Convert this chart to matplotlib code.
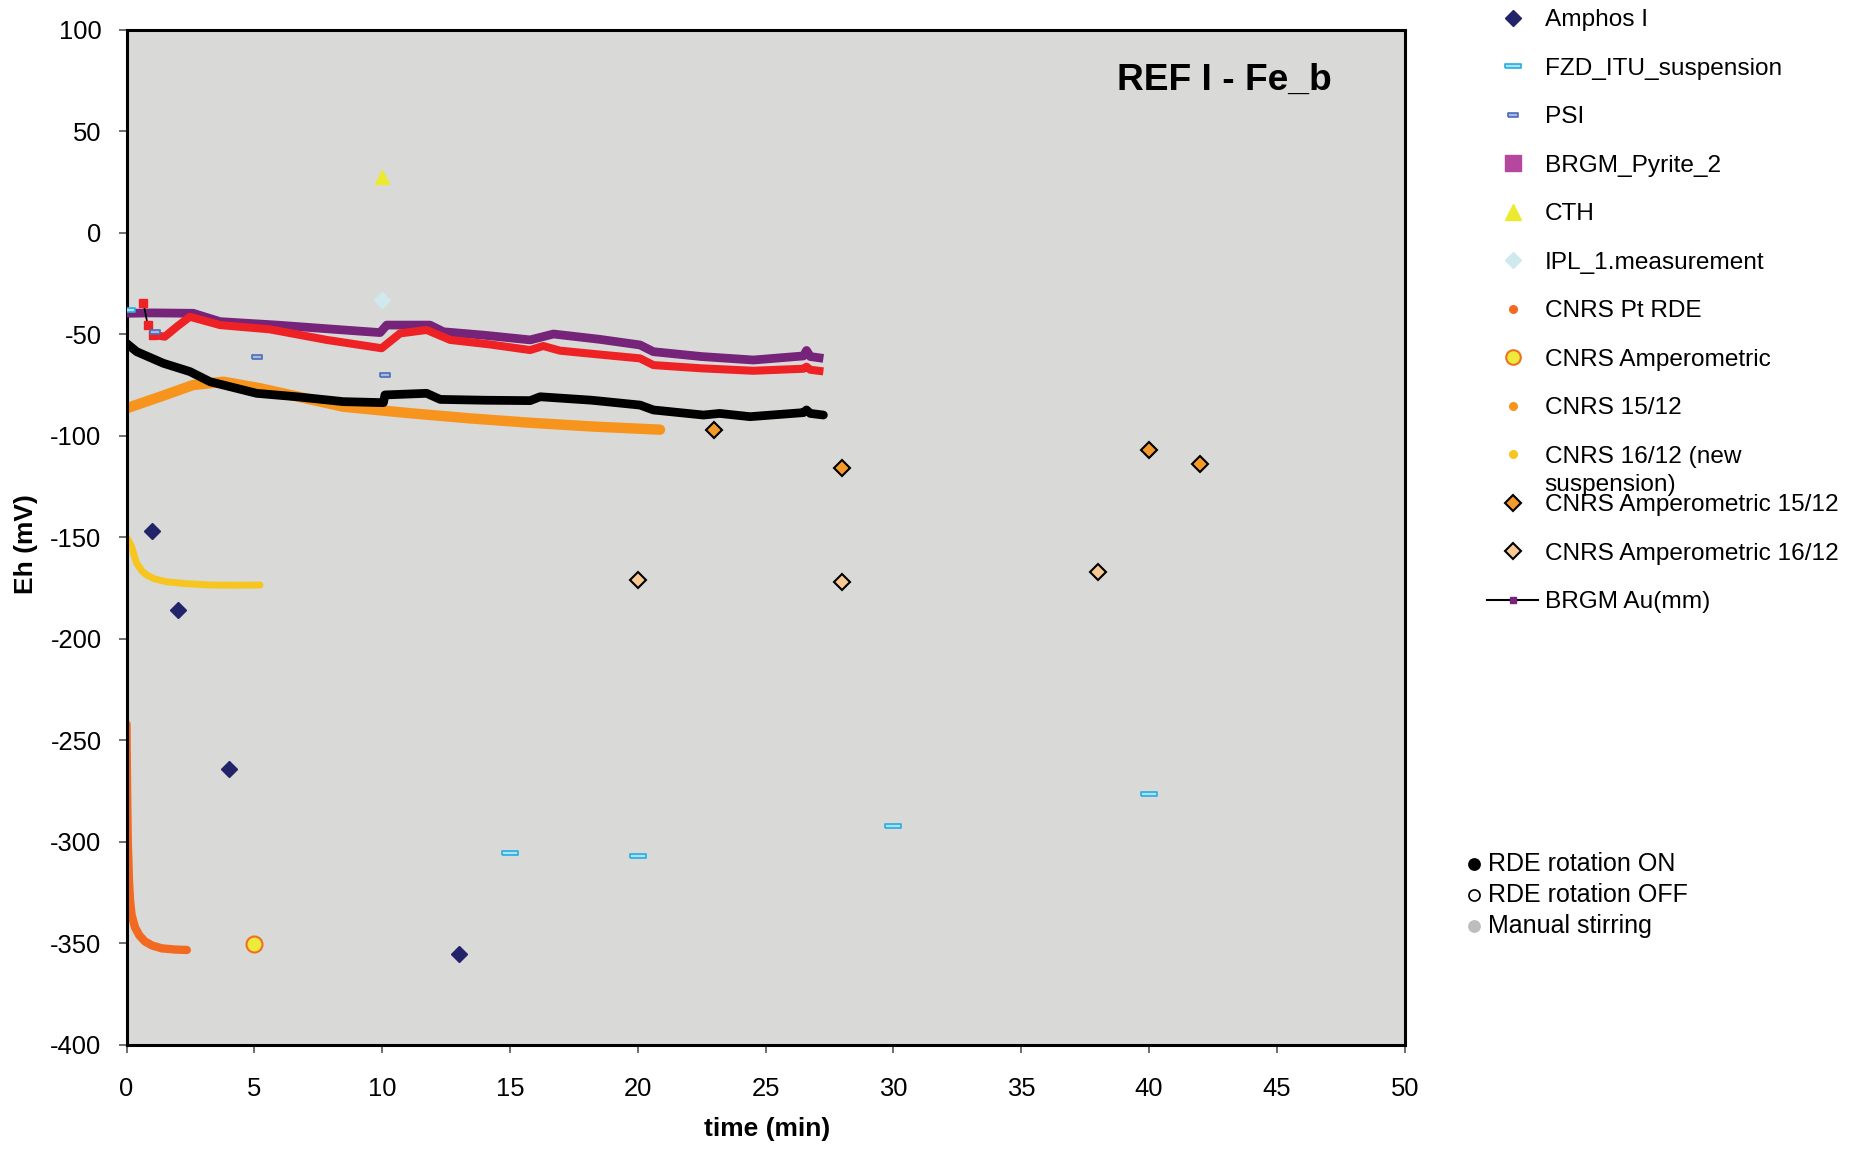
import matplotlib
matplotlib.use('Agg')
import matplotlib.pyplot as plt
from matplotlib.lines import Line2D

plt.rcParams['font.family'] = ['Liberation Sans', 'DejaVu Sans']
plt.rcParams['axes.unicode_minus'] = False

# ---------------- data ----------------
amphos_t = [1, 2, 4, 13]
amphos_v = [-147, -186, -264, -355]

fzd_t = [0, 15, 20, 30, 40]
fzd_v = [-38, -305.5, -307, -292, -276.5]

psi_t = [1.1, 5.1, 10.1]
psi_v = [-49, -61, -70]

cth_t = [10]
cth_v = [27.5]

ipl_t = [10]
ipl_v = [-33]

pt_rde_t = [0, 0.02, 0.05, 0.1, 0.14, 0.2, 0.33, 0.5, 0.72, 1.0, 1.38, 1.9, 2.36]
pt_rde_v = [-242, -271, -300, -320, -329, -336, -342, -346, -349, -351, -352.4, -353, -353.2]

amp_t = [5]
amp_v = [-350.5]

c1512_t = [0, 1.31, 2.61, 3.79, 5.22, 6.8, 8.48, 11.09, 13.5, 15.79, 18.3, 20.87]
c1512_v = [-86.5, -80.8, -75, -73.4, -76.6, -81, -85.7, -88.9, -91.5, -93.6, -95.5, -97.0]

c1612_t = [0, 0.07, 0.2, 0.3, 0.4, 0.6, 0.79, 1.1, 1.57, 2.3, 3.27, 4.2, 5.22]
c1612_v = [-150, -151.3, -154.6, -159, -162.8, -166.5, -168.6, -170.5, -171.9, -172.8, -173.5, -173.6, -173.5]

amp1512_t = [23, 28, 40, 42]
amp1512_v = [-97, -116, -107, -114]

amp1612_t = [20, 28, 38]
amp1612_v = [-171, -172, -167]

au_t = [0, 1.0, 2.61, 3.66, 5.88, 8.48, 9.92, 10.18, 11.87, 12.4, 14.0, 15.79, 16.7,
        18.5, 20.09, 20.61, 22.5, 24.52, 26.48, 26.6, 26.75, 27.26]
au_v = [-39.7, -39.5, -39.7, -43.8, -45.5, -47.9, -49.2, -45.5, -45.5, -48.8, -50.5, -52.8, -49.9,
        -52.5, -55.3, -58.6, -61, -62.7, -60.7, -58, -61, -61.9]

red_start_t = [0.66, 0.83, 1.05]
red_start_v = [-34.5, -45.5, -50.4]
red_t = [1.05, 1.5, 2.0, 2.48, 3.66, 5.61, 7.83, 9.98, 10.7, 11.74, 12.66, 14.2, 15.79, 16.3,
         16.96, 18.5, 20.09, 20.61, 22.5, 24.52, 26.48, 26.6, 26.75, 27.26]
red_v = [-50.4, -51.2, -46, -41.4, -45.5, -47.6, -52.8, -56.9, -49.6, -47.9, -52.8, -55, -57.8, -55.8,
         -58.1, -60, -61.9, -65.2, -66.8, -68, -67, -66, -67.5, -68.3]

blk_t = [0, 0.4, 1.44, 2.48, 3.27, 5.09, 6.66, 8.48, 10.05, 10.11, 11.74, 12.27, 14.0, 15.79, 16.18,
         18.2, 20.09, 20.61, 22.57, 23.2, 24.39, 26.48, 26.6, 26.75, 27.26]
blk_v = [-54.5, -58.6, -64.3, -68.4, -73.4, -79.1, -80.8, -83.2, -83.7, -79.9, -79.1, -82.1, -82.5, -82.7, -80.8,
         -82.5, -84.9, -87.3, -89.8, -89, -90.6, -88.6, -87.3, -89, -89.8]

legend_labels = ['Amphos I', 'FZD_ITU_suspension', 'PSI', 'BRGM_Pyrite_2', 'CTH',
                 'IPL_1.measurement', 'CNRS Pt RDE', 'CNRS Amperometric', 'CNRS 15/12',
                 'CNRS 16/12 (new', 'CNRS Amperometric 15/12', 'CNRS Amperometric 16/12',
                 'BRGM Au(mm)']
note_labels = ['RDE rotation ON', 'RDE rotation OFF', 'Manual stirring']

xticks = list(range(0, 51, 5))
yticks = list(range(-400, 101, 50))

# ---------------- styles ----------------
C_NAVY = '#232369'
C_PURPLE = '#76237a'
C_RED = '#ee2225'
C_ORANGE = '#f7941d'
C_GOLD = '#f7c520'
C_PTRDE = '#f26a21'
rect_long = [(-1, -0.3), (1, -0.3), (1, 0.3), (-1, 0.3), (-1, -0.3)]
rect_short = [(-1, -0.45), (1, -0.45), (1, 0.45), (-1, 0.45), (-1, -0.45)]

fig = plt.figure(figsize=(18.54, 11.52), dpi=100)
ax = fig.add_axes([126.5 / 1854, 1 - 1045 / 1152, (1404.7 - 126.5) / 1854, (1045 - 29.6) / 1152])
ax.set_facecolor('#d9d9d7')

# curves
ax.plot(c1512_t, c1512_v, color=C_ORANGE, lw=7.5, solid_capstyle='round', solid_joinstyle='round', zorder=2)
ax.plot(c1612_t, c1612_v, color=C_GOLD, lw=5, solid_capstyle='round', solid_joinstyle='round', zorder=2)
ax.plot(pt_rde_t, pt_rde_v, color=C_PTRDE, lw=6, solid_capstyle='round', solid_joinstyle='round', zorder=2)
ax.plot(au_t, au_v, color=C_PURPLE, lw=6.3, solid_capstyle='butt', solid_joinstyle='round', zorder=3)
ax.plot(red_t, red_v, color=C_RED, lw=5.8, solid_capstyle='butt', solid_joinstyle='round', zorder=4)
ax.plot(red_start_t, red_start_v, color='black', lw=1.2, marker='s', ms=5.5, mfc=C_RED, mec=C_RED, zorder=4)
ax.plot(blk_t, blk_v, color='black', lw=6.3, solid_capstyle='round', solid_joinstyle='round', zorder=5)

# point series
ax.plot(amphos_t, amphos_v, 'D', ms=8.5, color=C_NAVY, mec=C_NAVY, zorder=6)
ax.plot(fzd_t, fzd_v, marker=rect_long, ls='none', ms=11, mfc='#a8e4f7', mec='#29abe2', mew=1.2, zorder=6)
ax.plot(psi_t, psi_v, marker=rect_short, ls='none', ms=6.5, mfc='#a9b8e0', mec='#4b6cb7', mew=1.2, zorder=6)
ax.plot(cth_t, cth_v, '^', ms=10.5, color='#ecea2f', mec='#ecea2f', zorder=6)
ax.plot(ipl_t, ipl_v, 'D', ms=8.5, color='#cfe9ee', mec='#cfe9ee', zorder=6)
ax.plot(amp_t, amp_v, 'o', ms=11.5, mfc='#eeea3c', mec='#f07020', mew=1.5, zorder=6)
ax.plot(amp1512_t, amp1512_v, 'D', ms=8.5, mfc='#f39a2b', mec='black', mew=1.5, zorder=6)
ax.plot(amp1612_t, amp1612_v, 'D', ms=8.5, mfc='#f9c993', mec='black', mew=1.5, zorder=6)

ax.set_xlim(0, 50)
ax.set_ylim(-400, 100)
ax.set_xticks(xticks)
ax.set_yticks(yticks)
ax.tick_params(axis='both', direction='out', length=6, width=1.2, color='#555555', labelsize=18.4)
ax.tick_params(axis='y', pad=12)
ax.tick_params(axis='x', pad=17)
for s in ax.spines.values():
    s.set_linewidth(2.2)
    s.set_color('black')

fig.text(767 / 1854, 1 - 1129 / 1152, 'time (min)', ha='center', va='center', fontsize=19, fontweight='bold')
fig.text(26 / 1854, 1 - 544 / 1152, 'Eh (mV)', ha='center', va='center', fontsize=19, fontweight='bold',
         rotation=90)
ax.text(0.859, 0.95, 'REF I - Fe_b', transform=ax.transAxes, ha='center', va='center', fontsize=26.7,
        fontweight='bold')

# legend
handles = [
    Line2D([], [], ls='none', marker='D', ms=8, color=C_NAVY),
    Line2D([], [], ls='none', marker=rect_long, ms=11, mfc='#a8e4f7', mec='#29abe2', mew=1.2),
    Line2D([], [], ls='none', marker=rect_short, ms=6.5, mfc='#a9b8e0', mec='#4b6cb7', mew=1.2),
    Line2D([], [], ls='none', marker='s', ms=11, color='#b5479e'),
    Line2D([], [], ls='none', marker='^', ms=11, color='#ecea2f'),
    Line2D([], [], ls='none', marker='D', ms=8.5, color='#cfe9ee'),
    Line2D([], [], ls='none', marker='o', ms=5.5, color=C_PTRDE),
    Line2D([], [], ls='none', marker='o', ms=10.5, mfc='#eeea3c', mec='#f07020', mew=1.5),
    Line2D([], [], ls='none', marker='o', ms=5.5, color=C_ORANGE),
    Line2D([], [], ls='none', marker='o', ms=5.5, color=C_GOLD),
    Line2D([], [], ls='none', marker='D', ms=8, mfc='#f39a2b', mec='black', mew=1.5),
    Line2D([], [], ls='none', marker='D', ms=8, mfc='#f9c993', mec='black', mew=1.5),
    Line2D([], [], color='black', lw=1.5, marker='s', ms=5, mfc=C_PURPLE, mec=C_PURPLE),
]
leg = fig.legend(handles, legend_labels, loc='upper left', bbox_to_anchor=(1487 / 1854, 1 - 9 / 1152),
                 frameon=False, fontsize=17.6, handlelength=2.1, handletextpad=0.26, labelspacing=1.08,
                 borderpad=0, borderaxespad=0)

fig.canvas.draw()
t9 = leg.get_texts()[9]
bb = t9.get_window_extent()
fig.text(bb.x0 / 1854, (bb.y0 - 28 + bb.height / 2) / 1152, 'suspension)', ha='left', va='center',
         fontsize=17.6)

# notes
note_y = [864, 895, 926]
note_face = ['black', 'white', '#bdbdbd']
note_edge = ['black', 'black', '#bdbdbd']
for lab, yy, fc, ec in zip(note_labels, note_y, note_face, note_edge):
    fig.add_artist(Line2D([1474 / 1854], [1 - yy / 1152], transform=fig.transFigure, ls='none', marker='o',
                          ms=8, mfc=fc, mec=ec, mew=1.2))
    fig.text(1488 / 1854, 1 - yy / 1152, lab, ha='left', va='center', fontsize=18)

fig.savefig('out.png', dpi=100)
